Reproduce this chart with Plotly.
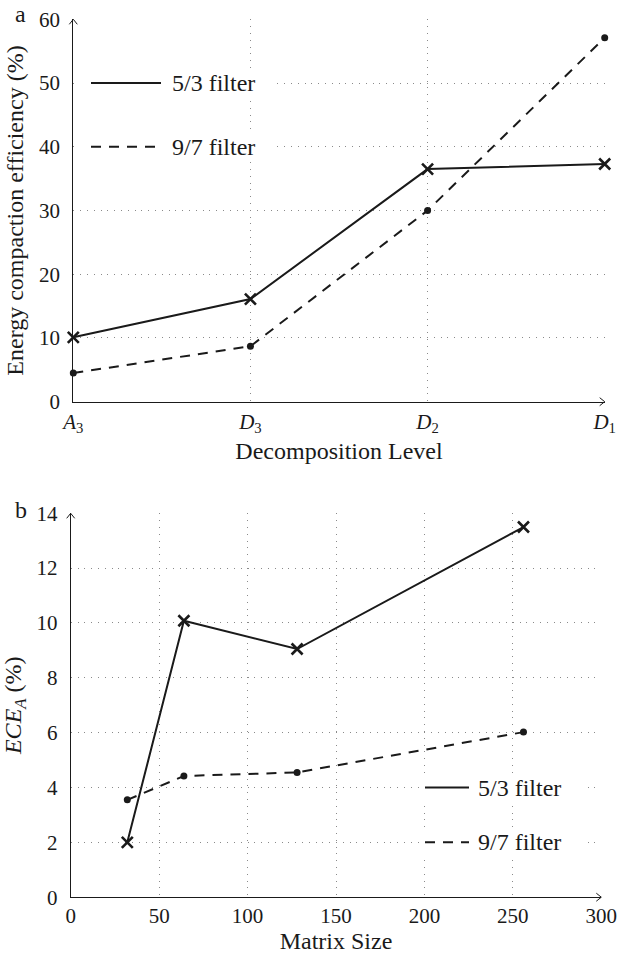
import plotly.graph_objects as go

# ---------------- data ----------------
levels = ["A3", "D3", "D2", "D1"]
level_ticktext = ["<i>A</i><sub>3</sub>", "<i>D</i><sub>3</sub>",
                  "<i>D</i><sub>2</sub>", "<i>D</i><sub>1</sub>"]
ece_53 = [10.1, 16.1, 36.5, 37.3]
ece_97 = [4.5, 8.7, 30.0, 57.1]

matrix_size = [32, 64, 128, 256]
eceA_53 = [2.0, 10.08, 9.05, 13.5]
eceA_97 = [3.55, 4.42, 4.55, 6.02]

series_names = ["5/3 filter", "9/7 filter"]

# ---------------- style ----------------
W, H = 617, 954
FONT = "'Liberation Serif', 'Times New Roman', 'DejaVu Serif', serif"
INK = "#1a1a1a"
GRID = "#8a8a8a"
DASH = "10px,8px"
TICK_SIZE = 21
TITLE_SIZE = 24
LEG_SIZE = 24


def px(x):
    return x / W


def py(y):
    return 1 - y / H


fig = go.Figure()

level_x = list(range(len(levels)))

cross = dict(symbol="x-thin-open", size=11, line=dict(color=INK, width=2.6))
dot = dict(symbol="circle", size=7, color=INK)

fig.add_trace(go.Scatter(x=level_x, y=ece_53, mode="lines+markers", name=series_names[0],
                         line=dict(color=INK, width=2), marker=cross,
                         xaxis="x", yaxis="y", showlegend=False, cliponaxis=False))
fig.add_trace(go.Scatter(x=level_x, y=ece_97, mode="lines+markers", name=series_names[1],
                         line=dict(color=INK, width=2, dash=DASH), marker=dot,
                         xaxis="x", yaxis="y", showlegend=False, cliponaxis=False))

fig.add_trace(go.Scatter(x=matrix_size, y=eceA_53, mode="lines+markers", name=series_names[0],
                         line=dict(color=INK, width=2), marker=cross,
                         xaxis="x2", yaxis="y2", showlegend=False, cliponaxis=False))
fig.add_trace(go.Scatter(x=matrix_size, y=eceA_97, mode="lines+markers", name=series_names[1],
                         line=dict(color=INK, width=2, dash=DASH), marker=dot,
                         xaxis="x2", yaxis="y2", showlegend=False, cliponaxis=False))

# plot-area pixel boxes
T_L, T_R, T_T, T_B = 73.3, 604.7, 19.3, 401.7
B_L, B_R, B_T, B_B = 70.7, 601.3, 513.3, 897.2

axis_common = dict(
    showline=True, linecolor=INK, linewidth=1,
    showgrid=True, gridcolor=GRID, gridwidth=1, griddash="1px,5.8px",
    zeroline=False, ticks="", automargin=False,
    tickfont=dict(family=FONT, size=TICK_SIZE, color=INK),
    fixedrange=True, ticklabeloverflow="allow",
)

fig.update_layout(
    width=W, height=H,
    margin=dict(l=0, r=0, t=0, b=0, autoexpand=False),
    paper_bgcolor="white", plot_bgcolor="white",
    font=dict(family=FONT, size=TICK_SIZE, color=INK),
    showlegend=False,
    xaxis=dict(domain=[px(T_L), px(T_R)], anchor="y", range=[0, 3],
               tickmode="array", tickvals=level_x, ticktext=level_ticktext,
               title=dict(text="Decomposition Level", font=dict(family=FONT, size=TITLE_SIZE), standoff=6),
               ticklabelstandoff=1, **axis_common),
    yaxis=dict(domain=[py(T_B), py(T_T)], anchor="x", range=[0, 60], dtick=10,
               title=dict(text="Energy compaction efficiency (%)", font=dict(family=FONT, size=TITLE_SIZE), standoff=8),
               ticklabelstandoff=8, **axis_common),
    xaxis2=dict(domain=[px(B_L), px(B_R)], anchor="y2", range=[0, 300], dtick=50,
                title=dict(text="Matrix Size", font=dict(family=FONT, size=TITLE_SIZE), standoff=4),
                ticklabelstandoff=0, **axis_common),
    yaxis2=dict(domain=[py(B_B), py(B_T)], anchor="x2", range=[0, 14], dtick=2,
                title=dict(text="<i>ECE<sub>A</sub></i> (%)", font=dict(family=FONT, size=TITLE_SIZE), standoff=14),
                ticklabelstandoff=8, **axis_common),
)

shapes = []
annotations = []


def arrow_up(x, y):
    return dict(type="path", xref="paper", yref="paper",
                path=f"M {px(x-4)} {py(y+5)} L {px(x)} {py(y)} L {px(x+4)} {py(y+5)}",
                line=dict(color=INK, width=1), layer="above")


def arrow_right(x, y):
    return dict(type="path", xref="paper", yref="paper",
                path=f"M {px(x-5)} {py(y-4)} L {px(x)} {py(y)} L {px(x-5)} {py(y+4)}",
                line=dict(color=INK, width=1), layer="above")


shapes += [arrow_up(T_L, T_T), arrow_right(T_R, T_B), arrow_up(B_L, B_T), arrow_right(B_R, B_B)]


def legend_entry(x0, x1, xt, y, dash, name, box):
    bx0, bx1 = box
    s = [dict(type="rect", xref="paper", yref="paper",
              x0=px(bx0), x1=px(bx1), y0=py(y + 13), y1=py(y - 13),
              fillcolor="white", line=dict(width=0), layer="above"),
         dict(type="line", xref="paper", yref="paper",
              x0=px(x0), x1=px(x1), y0=py(y), y1=py(y),
              line=dict(color=INK, width=2, dash=dash), layer="above")]
    a = dict(text=name, xref="paper", yref="paper", x=px(xt), y=py(y),
             xanchor="left", yanchor="middle", showarrow=False,
             font=dict(family=FONT, size=LEG_SIZE, color=INK))
    return s, a


# legend of panel a
for name, dash, yy in [(series_names[0], "solid", 83.0), (series_names[1], DASH, 146.8)]:
    s, a = legend_entry(91, 161, 170, yy, dash, name, (79, 277))
    shapes += s
    annotations.append(a)

# legend of panel b
for name, dash, yy in [(series_names[0], "solid", 787.5), (series_names[1], DASH, 842.3)]:
    s, a = legend_entry(425, 469, 476, yy, dash, name, (421, 583))
    shapes += s
    annotations.append(a)

# panel labels
annotations.append(dict(text="a", xref="paper", yref="paper", x=px(21), y=py(14),
                        xanchor="center", yanchor="middle", showarrow=False,
                        font=dict(family=FONT, size=24, color=INK)))
annotations.append(dict(text="b", xref="paper", yref="paper", x=px(21), y=py(510),
                        xanchor="center", yanchor="middle", showarrow=False,
                        font=dict(family=FONT, size=24, color=INK)))

fig.update_layout(shapes=shapes, annotations=annotations)

fig.write_html(
    "out.html",
    config={"displayModeBar": False},
    post_script="document.body.style.margin='0';document.body.style.overflow='hidden';"
                "document.documentElement.style.overflow='hidden';",
)
